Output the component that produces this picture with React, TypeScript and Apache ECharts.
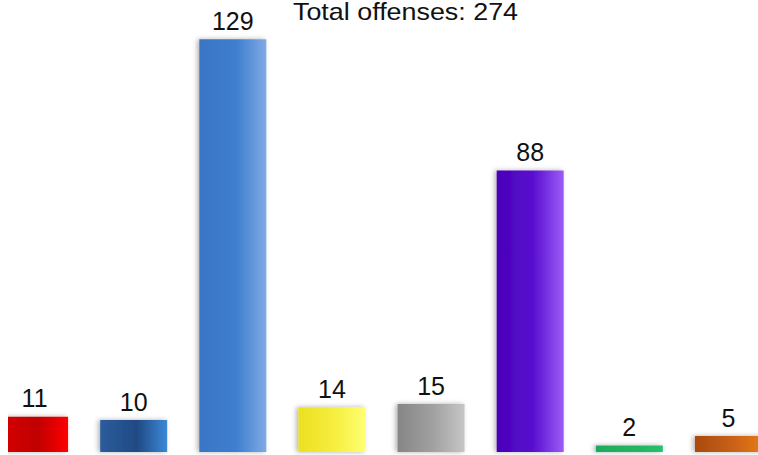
import React, { useEffect, useRef } from "react";
import * as echarts from "echarts";

const categories = ["A", "B", "C", "D", "E", "F", "G", "H"];
const values = [11, 10, 129, 14, 15, 88, 2, 5];
const totalLabel = "Total offenses: 274";

const palette: string[][] = [
  ["#d60000", "#c00000", "#ff0404"],
  ["#2d5c9c", "#1f4a84", "#3d88d8"],
  ["#3a76c6", "#3f7ecf", "#80aae3"],
  ["#ece020", "#f6ee40", "#ffff72"],
  ["#868686", "#a2a2a2", "#c6c6c6"],
  ["#4800b6", "#5a10d0", "#9c5cf6"],
  ["#1faa5c", "#22b462", "#28c06c"],
  ["#a84a10", "#c86014", "#e47a1a"],
];

export default function App() {
  const ref = useRef<HTMLDivElement>(null);
  useEffect(() => {
    if (!ref.current) return;
    const chart = echarts.init(ref.current, undefined, { renderer: "svg" });
    chart.setOption({
      animation: false,
      backgroundColor: "#ffffff",
      grid: { left: 0, right: 0, top: 4, bottom: 3, containLabel: false },
      xAxis: {
        type: "category",
        data: categories,
        show: false,
      },
      yAxis: { type: "value", min: 0, max: 140, show: false },
      graphic: [
        {
          type: "text",
          x: 308,
          y: 12,
          scaleX: 1.12,
          style: {
            text: totalLabel,
            font: "24px 'Liberation Sans', Arial, sans-serif",
            fill: "#111",
            align: "left",
            verticalAlign: "middle",
          },
        },
      ],
      series: [
        {
          type: "bar",
          barWidth: 67,
          data: values.map((v, i) => ({
            value: v,
            itemStyle: {
              color: new echarts.graphic.LinearGradient(0, 0, 1, 0, [
                { offset: 0, color: palette[i][0] },
                { offset: 0.55, color: palette[i][1] },
                { offset: 1, color: palette[i][2] },
              ]),
            },
          })),
          itemStyle: {
            shadowColor: "rgba(0,0,0,0.3)",
            shadowBlur: 5,
            shadowOffsetX: -2,
            shadowOffsetY: 0,
          },
          label: {
            show: true,
            position: "top",
            distance: 6,
            color: "#111",
            fontSize: 25,
            fontFamily: "'Liberation Sans', Arial, sans-serif",
          },
        },
      ],
    });
    return () => chart.dispose();
  }, []);
  return (
    <div
      style={{
        position: "absolute",
        left: 8,
        top: 0,
        width: 750,
        height: 455,
        overflow: "hidden",
        background: "#fff",
      }}
    >
      <div
        ref={ref}
        style={{ position: "absolute", left: -23, top: 0, width: 793, height: 455 }}
      />
    </div>
  );
}
